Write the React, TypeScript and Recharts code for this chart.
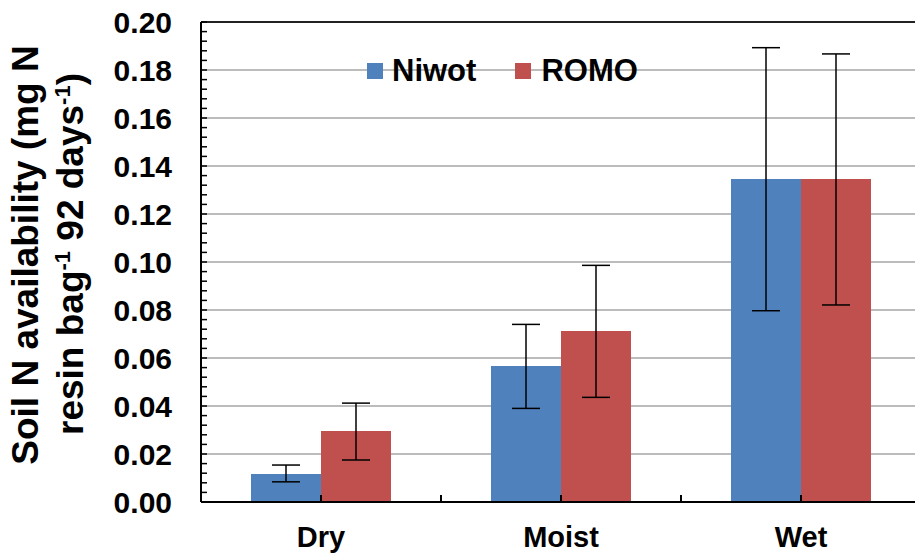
import React from "react";
import { Bar, BarChart, CartesianGrid, ErrorBar, Legend, ReferenceLine, XAxis, YAxis } from "recharts";

const sites = ["Dry", "Moist", "Wet"];
const niwotMean = [0.0117, 0.0567, 0.1346];
const niwotLow = [0.0084, 0.039, 0.0797];
const niwotHigh = [0.0154, 0.074, 0.1893];
const romoMean = [0.0296, 0.0712, 0.1346];
const romoLow = [0.0175, 0.0436, 0.0821];
const romoHigh = [0.0412, 0.0986, 0.1867];

const majorTicks = [0, 0.02, 0.04, 0.06, 0.08, 0.1, 0.12, 0.14, 0.16, 0.18, 0.2];
const minorTicks = Array.from({ length: 51 }, (_, i) => Math.round(i * 4) / 1000);

const BLUE = "#4f81bd";
const RED = "#c0504d";
const FONT = "'Liberation Sans', Arial, sans-serif";

const CHART_W = 921;
const CHART_H = 556;
const Y_W = 201;
const HALF_BAND = (CHART_W - Y_W) / sites.length / 2;

const rows = sites.map((site, i) => ({
  site,
  niwot: niwotMean[i],
  niwotErr: [niwotMean[i] - niwotLow[i], niwotHigh[i] - niwotMean[i]],
  romo: romoMean[i],
  romoErr: [romoMean[i] - romoLow[i], romoHigh[i] - romoMean[i]],
}));

function YTick(props: any) {
  const { x, y, payload } = props;
  const v = payload.value;
  const major = Math.abs(v * 50 - Math.round(v * 50)) < 1e-6;
  return (
    <g>
      <line x1={x} x2={x + 6} y1={y} y2={y} stroke="#000" strokeWidth={1.5} />
      {major && (
        <text x={x - 29} y={y} dy="0.36em" textAnchor="end" fontFamily={FONT} fontWeight={700} fontSize={30} fill="#000">
          {v.toFixed(2)}
        </text>
      )}
    </g>
  );
}

function XTick(props: any) {
  const { x, y, payload, index } = props;
  return (
    <g>
      <line x1={x} x2={x} y1={y} y2={y - 7} stroke="#000" strokeWidth={2} />
      {index < sites.length - 1 && (
        <line x1={x + HALF_BAND} x2={x + HALF_BAND} y1={y} y2={y - 7} stroke="#000" strokeWidth={2} />
      )}
      <text x={x} y={y + 45} textAnchor="middle" fontFamily={FONT} fontWeight={700} fontSize={29} fill="#000">
        {payload.value}
      </text>
    </g>
  );
}

function AxisTitle() {
  return (
    <g fontFamily={FONT} fontWeight={700} fill="#000">
      <text x={38} y={255} transform="rotate(-90, 38, 255)" textAnchor="middle" fontSize={37}>
        Soil N availability (mg N
      </text>
      <text x={83} y={254} transform="rotate(-90, 83, 254)" textAnchor="middle" fontSize={37}>
        <tspan>resin bag</tspan>
        <tspan dy={-13} fontSize={22}>-1</tspan>
        <tspan dy={13}> 92 days</tspan>
        <tspan dy={-13} fontSize={22}>-1</tspan>
        <tspan dy={13}>)</tspan>
      </text>
    </g>
  );
}

function LegendBox() {
  const sq = (c: string) => (
    <span style={{ display: "inline-block", width: 16, height: 16, background: c }} />
  );
  return (
    <div style={{ display: "flex", alignItems: "center", fontFamily: FONT, fontWeight: 700, fontSize: 31, lineHeight: "38px", color: "#000", whiteSpace: "nowrap" }}>
      {sq(BLUE)}
      <span style={{ marginLeft: 9 }}>Niwot</span>
      <span style={{ marginLeft: 39, display: "flex", alignItems: "center" }}>{sq(RED)}</span>
      <span style={{ marginLeft: 10 }}>ROMO</span>
    </div>
  );
}

export default function App() {
  return (
    <div style={{ position: "absolute", left: 0, top: 0, width: 915, height: 556, overflow: "hidden", background: "#fff" }}>
      <BarChart
        width={CHART_W}
        height={CHART_H}
        data={rows}
        margin={{ top: 22, right: 0, left: 0, bottom: 0 }}
        barCategoryGap={50}
        barGap={0}
      >
        <CartesianGrid vertical={false} horizontalValues={majorTicks} stroke="#a6a6a6" strokeWidth={1.5} />
        <XAxis
          dataKey="site"
          height={54}
          interval={0}
          tickSize={0}
          tickMargin={0}
          tickLine={false}
          axisLine={{ stroke: "#000", strokeWidth: 2 }}
          tick={<XTick />}
        />
        <YAxis
          width={Y_W}
          domain={[0, 0.2]}
          ticks={minorTicks}
          interval={0}
          tickSize={0}
          tickMargin={0}
          tickLine={false}
          axisLine={{ stroke: "#000", strokeWidth: 2 }}
          tick={<YTick />}
          label={{ content: () => <AxisTitle /> }}
        />
        <ReferenceLine y={0.2} stroke="#222" strokeWidth={2} />
        <Legend
          layout="horizontal"
          verticalAlign="middle"
          align="center"
          wrapperStyle={{ position: "absolute", top: 52, left: 367, width: "auto", height: "auto" }}
          content={() => <LegendBox />}
        />
        <Bar dataKey="niwot" name="Niwot" fill={BLUE} isAnimationActive={false}>
          <ErrorBar dataKey="niwotErr" width={14} stroke="#000" strokeWidth={1.5} />
        </Bar>
        <Bar dataKey="romo" name="ROMO" fill={RED} isAnimationActive={false}>
          <ErrorBar dataKey="romoErr" width={14} stroke="#000" strokeWidth={1.5} />
        </Bar>
      </BarChart>
    </div>
  );
}
